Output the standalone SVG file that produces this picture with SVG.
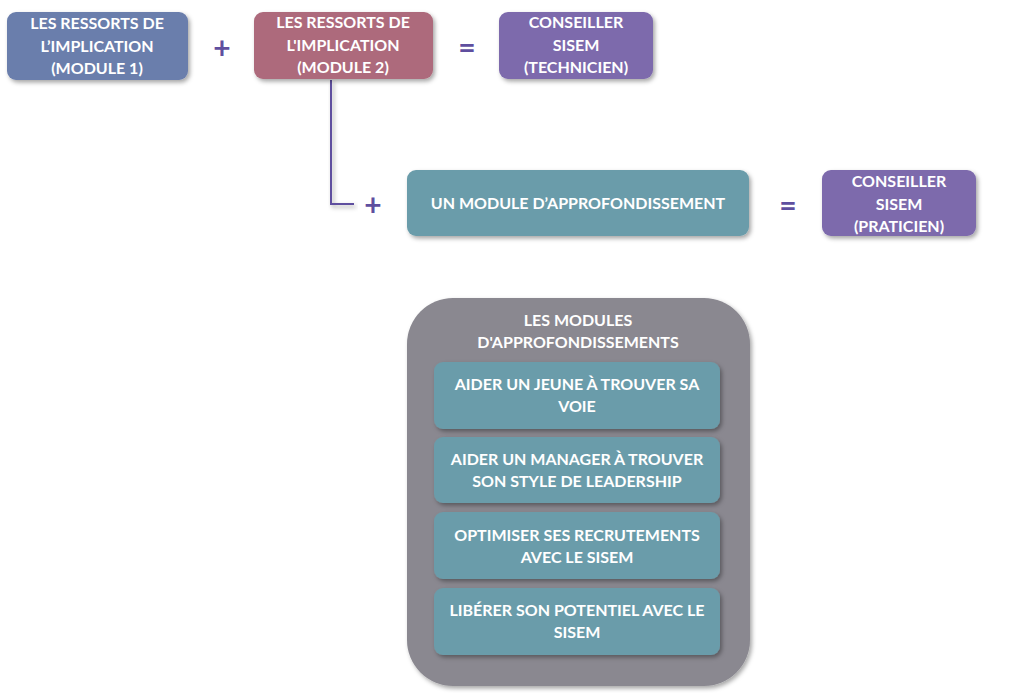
<svg xmlns="http://www.w3.org/2000/svg" width="1024" height="693" viewBox="0 0 1024 693">
<defs>
<filter id="sh" x="-10%" y="-10%" width="125%" height="130%">
<feDropShadow dx="2" dy="2.5" stdDeviation="2" flood-color="#000" flood-opacity="0.35"/>
</filter>
<style>
.t{font-family:Lato,"Open Sans","Liberation Sans",sans-serif;font-weight:bold;font-size:16px;fill:#fff;text-anchor:middle}
.op{font-family:Lato,"Liberation Sans",sans-serif;font-weight:bold;font-size:30px;fill:#5f4f9f;text-anchor:middle}
.b{filter:url(#sh)}
</style>
</defs>
<rect width="1024" height="693" fill="#fff"/>
<g id="connectors">
<polyline points="331,80 331,204 354,204" fill="none" stroke="#5f4f9f" stroke-width="2" filter="url(#sh)"/>
</g>
<g id="module1">
<rect class="b" x="7" y="12" width="181" height="68" rx="9" fill="#6b7eac"/>
<text class="t" x="97" y="29">LES RESSORTS DE</text>
<text class="t" x="97" y="51.5">L’IMPLICATION</text>
<text class="t" x="97" y="74">(MODULE 1)</text>
</g>
<text class="op" x="222" y="59">+</text>
<g id="module2">
<rect class="b" x="254" y="12" width="179" height="67" rx="9" fill="#ad6b7b"/>
<text class="t" x="343" y="28">LES RESSORTS DE</text>
<text class="t" x="343" y="50.5">L'IMPLICATION</text>
<text class="t" x="343" y="73">(MODULE 2)</text>
</g>
<text class="op" x="467" y="58">=</text>
<g id="technicien">
<rect class="b" x="499" y="12" width="154" height="67" rx="9" fill="#7d6aac"/>
<text class="t" x="576" y="28">CONSEILLER</text>
<text class="t" x="576" y="50.5">SISEM</text>
<text class="t" x="576" y="73">(TECHNICIEN)</text>
</g>
<text class="op" x="373" y="216">+</text>
<g id="approfondissement">
<rect class="b" x="407" y="170" width="342" height="66" rx="9" fill="#6b9caa"/>
<text class="t" x="578" y="209">UN MODULE D’APPROFONDISSEMENT</text>
</g>
<text class="op" x="788" y="216">=</text>
<g id="praticien">
<rect class="b" x="822" y="170" width="154" height="66" rx="9" fill="#7d6aac"/>
<text class="t" x="899" y="187">CONSEILLER</text>
<text class="t" x="899" y="209.5">SISEM</text>
<text class="t" x="899" y="232">(PRATICIEN)</text>
</g>
<g id="modules">
<rect class="b" x="407" y="298" width="343" height="388" rx="46" fill="#8a8890"/>
<text class="t" x="578" y="326">LES MODULES</text>
<text class="t" x="578" y="348">D'APPROFONDISSEMENTS</text>
</g>
<g id="m-jeune">
<rect class="b" x="434" y="362" width="286" height="67" rx="9" fill="#6b9caa"/>
<text class="t" x="577" y="390">AIDER UN JEUNE À TROUVER SA</text>
<text class="t" x="577" y="412">VOIE</text>
</g>
<g id="m-manager">
<rect class="b" x="434" y="437" width="286" height="66" rx="9" fill="#6b9caa"/>
<text class="t" x="577" y="465">AIDER UN MANAGER À TROUVER</text>
<text class="t" x="577" y="487">SON STYLE DE LEADERSHIP</text>
</g>
<g id="m-recrutements">
<rect class="b" x="434" y="512" width="286" height="67" rx="9" fill="#6b9caa"/>
<text class="t" x="577" y="541">OPTIMISER SES RECRUTEMENTS</text>
<text class="t" x="577" y="563">AVEC LE SISEM</text>
</g>
<g id="m-potentiel">
<rect class="b" x="434" y="588" width="286" height="67" rx="9" fill="#6b9caa"/>
<text class="t" x="577" y="616">LIBÉRER SON POTENTIEL AVEC LE</text>
<text class="t" x="577" y="638">SISEM</text>
</g>
</svg>
